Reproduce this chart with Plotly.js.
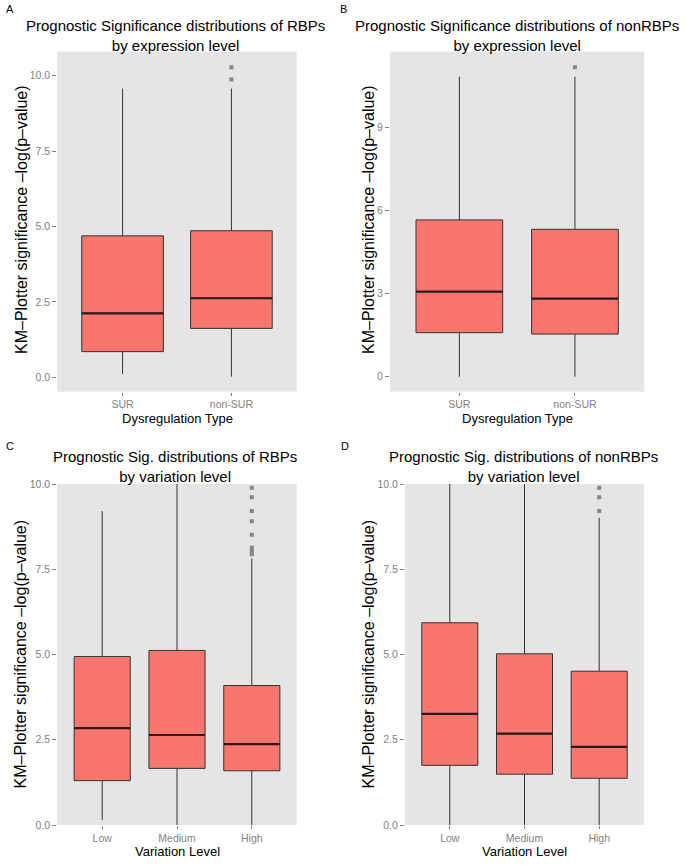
<!DOCTYPE html>
<html>
<head>
<meta charset="utf-8">
<script src="https://cdn.plot.ly/plotly-3.0.1.min.js"></script>
<style>html,body{margin:0;padding:0;background:#fff;}#chart{width:685px;height:865px;}</style>
</head>
<body>
<div id="chart"></div>
<script>
// ---- Data ----
const catsExpr = ['SUR', 'non-SUR'];
const catsVar = ['Low', 'Medium', 'High'];

// Panel A: RBPs by expression level
const aQ1 = [0.85, 1.62];
const aMed = [2.12, 2.62];
const aQ3 = [4.69, 4.86];
const aLo = [0.11, 0.02];
const aHi = [9.58, 9.58];
const aOutX = ['non-SUR', 'non-SUR'];
const aOutY = [9.88, 10.28];

// Panel B: nonRBPs by expression level
const bQ1 = [1.59, 1.54];
const bMed = [3.07, 2.82];
const bQ3 = [5.66, 5.32];
const bLo = [0.0, 0.0];
const bHi = [10.83, 10.83];
const bOutX = ['non-SUR'];
const bOutY = [11.17];

// Panel C: RBPs by variation level
const cQ1 = [1.30, 1.66, 1.59];
const cMed = [2.84, 2.64, 2.37];
const cQ3 = [4.94, 5.12, 4.09];
const cLo = [0.15, 0.0, 0.0];
const cHi = [9.21, 11.0, 7.82];
const cOutX = ['High', 'High', 'High', 'High', 'High', 'High', 'High', 'High'];
const cOutY = [7.94, 8.04, 8.13, 8.51, 8.91, 9.21, 9.61, 9.89];

// Panel D: nonRBPs by variation level
const dQ1 = [1.75, 1.49, 1.37];
const dMed = [3.26, 2.68, 2.29];
const dQ3 = [5.93, 5.02, 4.51];
const dLo = [0.0, 0.0, 0.0];
const dHi = [11.0, 11.0, 9.01];
const dOutX = ['High', 'High', 'High'];
const dOutY = [9.21, 9.61, 9.89];

// ---- Styles ----
const FILL = '#F8766D';
const EDGE = '#333333';
const FONT = 'Liberation Sans, Arial, Helvetica, sans-serif';

function panel(cats, q1, med, q3, lo, hi, outX, outY, xa, ya) {
  return [
    { type: 'box', x: cats, q1: q1, median: med, q3: q3, lowerfence: lo, upperfence: hi,
      xaxis: xa, yaxis: ya, width: 0.75, whiskerwidth: 0, fillcolor: FILL,
      line: { color: EDGE, width: 1 }, boxpoints: false, hoverinfo: 'skip', showlegend: false },
    { type: 'box', x: cats, q1: med, median: med, q3: med, lowerfence: med, upperfence: med,
      xaxis: xa, yaxis: ya, width: 0.75, whiskerwidth: 0, fillcolor: 'rgba(0,0,0,0)',
      line: { color: '#2a1a1a', width: 2.2 }, boxpoints: false, hoverinfo: 'skip', showlegend: false },
    { type: 'scatter', mode: 'markers', x: outX, y: outY, xaxis: xa, yaxis: ya,
      marker: { symbol: 'square', size: 4, color: '#858585' }, cliponaxis: true,
      hoverinfo: 'skip', showlegend: false }
  ];
}

const data = [].concat(
  panel(catsExpr, aQ1, aMed, aQ3, aLo, aHi, aOutX, aOutY, 'x', 'y'),
  panel(catsExpr, bQ1, bMed, bQ3, bLo, bHi, bOutX, bOutY, 'x2', 'y2'),
  panel(catsVar, cQ1, cMed, cQ3, cLo, cHi, cOutX, cOutY, 'x3', 'y3'),
  panel(catsVar, dQ1, dMed, dQ3, dLo, dHi, dOutX, dOutY, 'x4', 'y4')
);

const W = 685, H = 865;
const px = v => v / W;
const py = v => 1 - v / H;

function xax(l, r, cats, anchor) {
  return { domain: [px(l), px(r)], anchor: anchor, type: 'category',
    categoryorder: 'array', categoryarray: cats,
    range: [-0.6, cats.length - 0.4], showgrid: false, zeroline: false, showline: false,
    ticks: 'outside', ticklen: 3, tickcolor: '#7f7f7f', tickwidth: 1,
    tickfont: { family: FONT, size: 10.5, color: '#7f7f7f' }, fixedrange: true };
}
function yax(t, b, range, vals, fmt, anchor) {
  return { domain: [py(b), py(t)], anchor: anchor, range: range,
    tickvals: vals, tickformat: fmt,
    showgrid: false, zeroline: false, showline: false,
    ticks: 'outside', ticklen: 4, tickcolor: '#7f7f7f', tickwidth: 1,
    tickfont: { family: FONT, size: 10.5, color: '#7f7f7f' }, fixedrange: true };
}

const ann = [];
function txt(x, y, text, size, opts) {
  ann.push(Object.assign({ xref: 'paper', yref: 'paper', x: px(x), y: py(y), text: text,
    showarrow: false, xanchor: 'center', yanchor: 'middle',
    font: { family: FONT, size: size, color: '#000' } }, opts || {}));
}
// Panel letters
txt(10, 9, 'A', 11);
txt(343, 9, 'B', 11);
txt(10, 446, 'C', 11);
txt(345, 446, 'D', 11);
// Titles
txt(175, 35.5, 'Prognostic Significance distributions of RBPs<br>by expression level', 15);
txt(517, 35.5, 'Prognostic Significance distributions of nonRBPs<br>by expression level', 15);
txt(175, 466.7, 'Prognostic Sig. distributions of RBPs<br>by variation level', 15);
txt(523, 466.7, 'Prognostic Sig. distributions of nonRBPs<br>by variation level', 15);
// X axis titles
txt(177, 418, 'Dysregulation Type', 13);
txt(517, 418, 'Dysregulation Type', 13);
txt(177, 851.5, 'Variation Level', 13);
txt(524.5, 851.5, 'Variation Level', 13);
// Y axis titles
const YT = 'KM\u2013Plotter significance \u2013log(p\u2013value)';
txt(21, 220, YT, 16, { textangle: -90 });
txt(368, 220, YT, 16, { textangle: -90 });
txt(20, 654.5, YT, 16, { textangle: -90 });
txt(368, 654.5, YT, 16, { textangle: -90 });

const layout = {
  width: W, height: H, margin: { l: 0, r: 0, t: 0, b: 0 },
  paper_bgcolor: '#ffffff', plot_bgcolor: '#E5E5E5',
  boxmode: 'overlay', showlegend: false,
  font: { family: FONT },
  xaxis: xax(57.3, 296.7, catsExpr, 'y'),
  yaxis: yax(51.7, 391.7, [-0.48, 10.8], [0, 2.5, 5, 7.5, 10], '.1f', 'x'),
  xaxis2: xax(390, 644.3, catsExpr, 'y2'),
  yaxis2: yax(51.7, 391.7, [-0.54, 11.73], [0, 3, 6, 9], 'd', 'x2'),
  xaxis3: xax(57.3, 296.7, catsVar, 'y3'),
  yaxis3: yax(484, 825, [0, 10], [0, 2.5, 5, 7.5, 10], '.1f', 'x3'),
  xaxis4: xax(405, 644, catsVar, 'y4'),
  yaxis4: yax(484, 825, [0, 10], [0, 2.5, 5, 7.5, 10], '.1f', 'x4'),
  annotations: ann
};

Plotly.newPlot('chart', data, layout, { staticPlot: true, displayModeBar: false });
</script>
</body>
</html>
